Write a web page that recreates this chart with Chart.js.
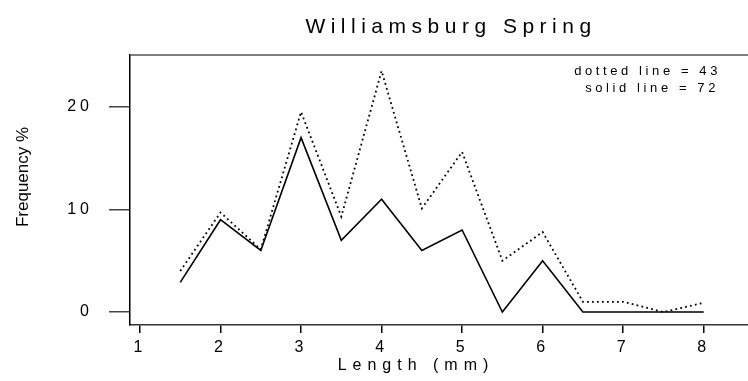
<!DOCTYPE html>
<html>
<head>
<meta charset="utf-8">
<script src="https://cdn.jsdelivr.net/npm/chart.js@4"></script>
<style>
  html, body { margin: 0; padding: 0; background: #fff; }
  #wrap { width: 748px; height: 381px; }
</style>
</head>
<body>
<div id="wrap"><canvas id="lenChart" width="748" height="381"></canvas></div>
<script>
// Williamsburg Spring - length frequency
const lengths = [1.5, 2, 2.5, 3, 3.5, 4, 4.5, 5, 5.5, 6, 6.5, 7, 7.5, 8];
const dottedVals = [4.0, 9.7, 6.1, 19.5, 9.3, 23.5, 10.1, 15.6, 5.0, 7.8, 1.0, 1.0, 0, 0.9];
const solidVals = [2.9, 9.0, 6.0, 17.0, 7.0, 11.0, 6.0, 8.0, 0, 5.0, 0, 0, 0, 0];
const xTicks = [1, 2, 3, 4, 5, 6, 7, 8];
const yTicks = [0, 10, 20];
const noteLines = ["dotted line = 43", "solid line = 72"];

const FONT = "'Liberation Sans', Arial, sans-serif";

function spacedText(ctx, txt, x, y, size, spacing, align) {
  ctx.save();
  ctx.font = size + "px " + FONT;
  ctx.letterSpacing = spacing + "px";
  ctx.fillStyle = "#000";
  ctx.textAlign = align;
  ctx.textBaseline = "alphabetic";
  ctx.fillText(txt, x, y);
  ctx.restore();
}

const textPlugin = {
  id: "texts",
  beforeDraw(chart) {
    // spaced-out tick labels like the original
    chart.ctx.letterSpacing = "4px";
  },
  afterDraw(chart) {
    const ctx = chart.ctx;
    const a = chart.chartArea;
    // top frame line
    ctx.save();
    ctx.strokeStyle = "#555";
    ctx.lineWidth = 1.5;
    ctx.beginPath();
    ctx.moveTo(a.left, a.top);
    ctx.lineTo(a.right, a.top);
    ctx.stroke();
    ctx.restore();

    spacedText(ctx, "Williamsburg Spring", 451, 33, 21, 5.5, "center");
    spacedText(ctx, "Length (mm)", 416, 370, 16, 6, "center");
    spacedText(ctx, noteLines[0], 721, 75, 13, 3.6, "right");
    spacedText(ctx, noteLines[1], 719, 92, 13, 3.6, "right");

    ctx.save();
    ctx.translate(28, 177);
    ctx.rotate(-Math.PI / 2);
    ctx.font = "17px " + FONT;
    ctx.letterSpacing = "0px";
    ctx.fillStyle = "#000";
    ctx.textAlign = "center";
    ctx.textBaseline = "alphabetic";
    ctx.fillText("Frequency %", 0, 0);
    ctx.restore();
  }
};

const ctx = document.getElementById("lenChart");
new Chart(ctx, {
  type: "line",
  data: {
    datasets: [{
      label: "dotted",
      data: lengths.map((x, i) => ({ x: x, y: dottedVals[i] })),
      borderColor: "#000",
      borderWidth: 1.8,
      borderDash: [1.8, 3.2],
      pointRadius: 0,
      tension: 0,
      fill: false
    }, {
      label: "solid",
      data: lengths.map((x, i) => ({ x: x, y: solidVals[i] })),
      borderColor: "#000",
      borderWidth: 1.6,
      pointRadius: 0,
      tension: 0,
      fill: false
    }]
  },
  options: {
    responsive: false,
    animation: false,
    layout: { padding: { top: 55, left: 0, right: 0, bottom: 0 } },
    plugins: {
      legend: { display: false },
      tooltip: { enabled: false },
      title: { display: false }
    },
    scales: {
      x: {
        type: "linear",
        min: 0.876,
        max: 8.55,
        afterBuildTicks(scale) { scale.ticks = xTicks.map(v => ({ value: v })); },
        afterFit(scale) { scale.height = 56; },
        grid: { drawOnChartArea: false, drawTicks: true, tickLength: 8, color: "#000", lineWidth: 1.5 },
        border: { display: true, color: "#333", width: 1.5 },
        ticks: { color: "#000", font: { family: FONT, size: 16 }, padding: 5, maxRotation: 0 }
      },
      y: {
        min: -1.26,
        max: 25.05,
        afterBuildTicks(scale) { scale.ticks = yTicks.map(v => ({ value: v })); },
        afterFit(scale) { scale.width = 130; },
        grid: { drawOnChartArea: false, drawTicks: true, tickLength: 21, color: "#444", lineWidth: 1.5 },
        border: { display: true, color: "#000", width: 1.5 },
        ticks: { color: "#000", font: { family: FONT, size: 16 }, padding: 16 }
      }
    }
  },
  plugins: [textPlugin]
});
</script>
</body>
</html>
